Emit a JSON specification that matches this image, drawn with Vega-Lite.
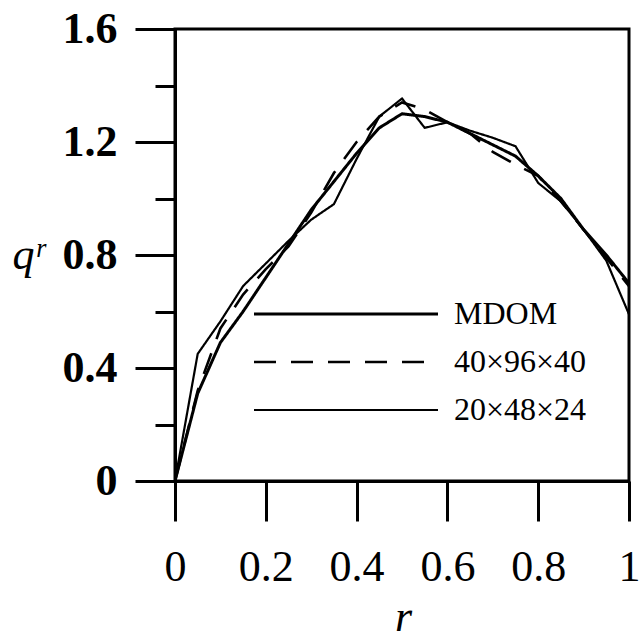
{
  "$schema": "https://vega.github.io/schema/vega-lite/v6.json",
  "width": 454,
  "height": 452,
  "autosize": {"type": "none"},
  "padding": {"left": 175, "top": 29, "right": 11, "bottom": 160},
  "background": "white",
  "config": {"view": {"stroke": "black", "strokeWidth": 3}, "font": "Liberation Serif"},
  "data": {
    "values": [
      {"series": "MDOM", "r": 0.00, "q": 0.00},
      {"series": "MDOM", "r": 0.05, "q": 0.31},
      {"series": "MDOM", "r": 0.10, "q": 0.49},
      {"series": "MDOM", "r": 0.15, "q": 0.60},
      {"series": "MDOM", "r": 0.20, "q": 0.72},
      {"series": "MDOM", "r": 0.25, "q": 0.84},
      {"series": "MDOM", "r": 0.30, "q": 0.96},
      {"series": "MDOM", "r": 0.35, "q": 1.06},
      {"series": "MDOM", "r": 0.40, "q": 1.16},
      {"series": "MDOM", "r": 0.45, "q": 1.25},
      {"series": "MDOM", "r": 0.50, "q": 1.30},
      {"series": "MDOM", "r": 0.55, "q": 1.29},
      {"series": "MDOM", "r": 0.60, "q": 1.27},
      {"series": "MDOM", "r": 0.65, "q": 1.23},
      {"series": "MDOM", "r": 0.70, "q": 1.19},
      {"series": "MDOM", "r": 0.75, "q": 1.15},
      {"series": "MDOM", "r": 0.80, "q": 1.08},
      {"series": "MDOM", "r": 0.85, "q": 1.00},
      {"series": "MDOM", "r": 0.90, "q": 0.89},
      {"series": "MDOM", "r": 0.95, "q": 0.80},
      {"series": "MDOM", "r": 1.00, "q": 0.70},
      {"series": "40×96×40", "r": 0.00, "q": 0.00},
      {"series": "40×96×40", "r": 0.05, "q": 0.32},
      {"series": "40×96×40", "r": 0.10, "q": 0.54},
      {"series": "40×96×40", "r": 0.15, "q": 0.66},
      {"series": "40×96×40", "r": 0.20, "q": 0.75},
      {"series": "40×96×40", "r": 0.25, "q": 0.83},
      {"series": "40×96×40", "r": 0.30, "q": 0.95},
      {"series": "40×96×40", "r": 0.35, "q": 1.09},
      {"series": "40×96×40", "r": 0.40, "q": 1.20},
      {"series": "40×96×40", "r": 0.45, "q": 1.29},
      {"series": "40×96×40", "r": 0.50, "q": 1.34},
      {"series": "40×96×40", "r": 0.55, "q": 1.315},
      {"series": "40×96×40", "r": 0.60, "q": 1.27},
      {"series": "40×96×40", "r": 0.65, "q": 1.23},
      {"series": "40×96×40", "r": 0.70, "q": 1.165},
      {"series": "40×96×40", "r": 0.75, "q": 1.12},
      {"series": "40×96×40", "r": 0.80, "q": 1.08},
      {"series": "40×96×40", "r": 0.85, "q": 0.99},
      {"series": "40×96×40", "r": 0.90, "q": 0.89},
      {"series": "40×96×40", "r": 0.95, "q": 0.79},
      {"series": "40×96×40", "r": 1.00, "q": 0.69},
      {"series": "20×48×24", "r": 0.00, "q": 0.00},
      {"series": "20×48×24", "r": 0.05, "q": 0.45},
      {"series": "20×48×24", "r": 0.10, "q": 0.565},
      {"series": "20×48×24", "r": 0.15, "q": 0.69},
      {"series": "20×48×24", "r": 0.20, "q": 0.77},
      {"series": "20×48×24", "r": 0.25, "q": 0.85},
      {"series": "20×48×24", "r": 0.30, "q": 0.925},
      {"series": "20×48×24", "r": 0.35, "q": 0.98},
      {"series": "20×48×24", "r": 0.40, "q": 1.14},
      {"series": "20×48×24", "r": 0.45, "q": 1.29},
      {"series": "20×48×24", "r": 0.50, "q": 1.354},
      {"series": "20×48×24", "r": 0.55, "q": 1.25},
      {"series": "20×48×24", "r": 0.60, "q": 1.27},
      {"series": "20×48×24", "r": 0.65, "q": 1.24},
      {"series": "20×48×24", "r": 0.70, "q": 1.215},
      {"series": "20×48×24", "r": 0.75, "q": 1.185},
      {"series": "20×48×24", "r": 0.80, "q": 1.055},
      {"series": "20×48×24", "r": 0.85, "q": 0.99},
      {"series": "20×48×24", "r": 0.90, "q": 0.89},
      {"series": "20×48×24", "r": 0.95, "q": 0.78},
      {"series": "20×48×24", "r": 1.00, "q": 0.59}
    ]
  },
  "mark": {"type": "line", "color": "black", "strokeCap": "butt", "strokeJoin": "miter", "clip": true},
  "encoding": {
    "x": {
      "field": "r", "type": "quantitative",
      "scale": {"domain": [0, 1], "nice": false, "zero": false},
      "axis": {
        "values": [0, 0.2, 0.4, 0.6, 0.8, 1],
        "labelExpr": "format(datum.value, '~g')",
        "grid": false, "domainColor": "black", "domainWidth": 3,
        "tickColor": "black", "tickWidth": 3, "tickSize": 40,
        "labelFont": "Liberation Serif", "labelFontSize": 44, "labelColor": "black",
        "labelPadding": 24, "labelFlush": false, "labelOverlap": false,
        "title": "r", "titleFont": "Liberation Serif", "titleFontStyle": "italic",
        "titleFontWeight": "normal", "titleFontSize": 44, "titleColor": "black",
        "titleBaseline": "alphabetic", "titleY": 149, "titleX": 228
      }
    },
    "y": {
      "field": "q", "type": "quantitative",
      "scale": {"domain": [0, 1.6], "nice": false, "zero": false},
      "axis": {
        "values": [0, 0.2, 0.4, 0.6, 0.8, 1.0, 1.2, 1.4, 1.6],
        "labelExpr": "abs(round(datum.value*10) % 4) == 0 ? format(datum.value, '~g') : ''",
        "grid": false, "domainColor": "black", "domainWidth": 3,
        "tickColor": "black", "tickWidth": 3,
        "tickSize": {"condition": {"test": "abs(round(datum.value*10) % 4) == 0", "value": 40}, "value": 20},
        "labelFont": "Liberation Serif", "labelFontSize": 44, "labelFontWeight": "bold", "labelColor": "black",
        "labelPadding": 18, "labelFlush": false, "labelOverlap": false,
        "title": "qʳ", "titleFont": "Liberation Serif", "titleFontStyle": "italic",
        "titleFontWeight": "normal", "titleFontSize": 44, "titleColor": "black",
        "titleAngle": 0, "titleAlign": "left", "titleBaseline": "alphabetic",
        "titleX": -163, "titleY": 239
      }
    },
    "strokeDash": {
      "field": "series", "type": "nominal",
      "scale": {"domain": ["MDOM", "40×96×40", "20×48×24"], "range": [[1, 0], [22, 15], [1, 0]]},
      "legend": {
        "orient": "none", "legendX": 155, "legendY": 269, "title": null,
        "symbolType": "M-9.2,0L9.2,0", "symbolSize": 400, "symbolStrokeColor": "black",
        "labelFont": "Liberation Serif", "labelFontSize": 32, "labelColor": "black",
        "labelOffset": 92, "rowPadding": 16, "padding": 0
      }
    },
    "strokeWidth": {
      "field": "series", "type": "nominal",
      "scale": {"domain": ["MDOM", "40×96×40", "20×48×24"], "range": [3, 2.2, 2]},
      "legend": {
        "orient": "none", "legendX": 155, "legendY": 269, "title": null,
        "symbolType": "M-9.2,0L9.2,0", "symbolSize": 400, "symbolStrokeColor": "black",
        "labelFont": "Liberation Serif", "labelFontSize": 32, "labelColor": "black",
        "labelOffset": 92, "rowPadding": 16, "padding": 0
      }
    }
  }
}
